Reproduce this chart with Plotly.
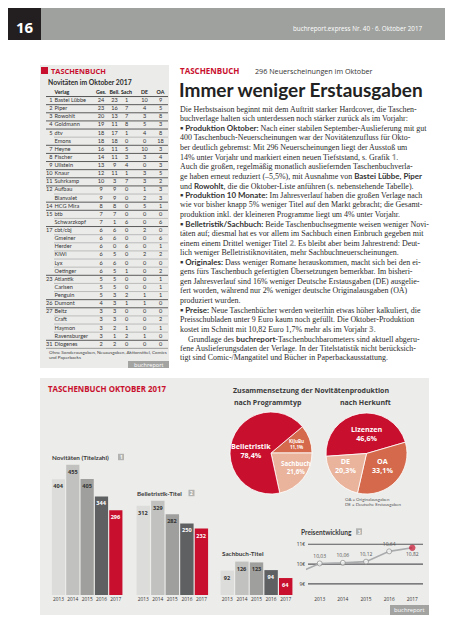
import plotly.graph_objects as go

W, H = 453, 640
RED = "#c8102e"
MID = "#d4694b"
LIGHT = "#e9b39c"
PANEL = "#ececea"
TXT = "#333333"
SANS = "Open Sans, Arial, sans-serif"
LATO = "Lato, Open Sans, sans-serif"
SERIF = "Liberation Serif, DejaVu Serif, serif"

# ---------------- data ----------------
rank = ["1", "2", "3", "4", "5", "", "7", "8", "9", "10", "11", "12", "", "14", "15", "",
        "17", "", "", "", "", "", "23", "", "", "26", "27", "", "", "", "31"]
verlag = ["Bastei Lübbe", "Piper", "Rowohlt", "Goldmann", "dtv", "Emons", "Heyne", "Fischer",
          "Ullstein", "Knaur", "Suhrkamp", "Aufbau", "Blanvalet", "HCG Mira", "btb", "Schwarzkopf",
          "cbt/cbj", "Gmeiner", "Herder", "KiWi", "Lyx", "Oetinger", "Atlantik", "Carlsen",
          "Penguin", "Dumont", "Beltz", "Craft", "Haymon", "Ravensburger", "Diogenes"]
ges = [24, 23, 20, 19, 18, 18, 16, 14, 13, 12, 10, 9, 9, 8, 7, 7, 6, 6, 6, 6, 6, 6, 5, 5, 5, 4, 3, 3, 3, 3, 2]
bell = [23, 16, 13, 11, 17, 18, 11, 11, 9, 11, 3, 9, 9, 8, 7, 1, 6, 6, 0, 5, 6, 5, 5, 5, 3, 3, 3, 3, 2, 1, 2]
sach = [1, 7, 7, 8, 1, 0, 5, 3, 4, 1, 7, 0, 0, 0, 0, 6, 0, 0, 6, 0, 0, 1, 0, 0, 2, 1, 0, 0, 1, 2, 0]
de = [10, 4, 3, 5, 4, 0, 10, 3, 0, 3, 3, 1, 2, 5, 0, 0, 2, 0, 0, 2, 0, 0, 0, 0, 1, 1, 0, 0, 0, 1, 0]
oa = [9, 5, 8, 3, 8, 18, 3, 4, 3, 5, 2, 3, 3, 1, 0, 6, 0, 6, 1, 2, 0, 2, 1, 1, 1, 0, 0, 2, 1, 0, 0]
table_header = ["Verlag", "Ges.", "Bell.", "Sach", "DE", "OA"]

years = ["2013", "2014", "2015", "2016", "2017"]
novitaeten = [404, 455, 405, 344, 296]
belletristik_titel = [312, 329, 282, 250, 232]
sachbuch_titel = [92, 126, 123, 94, 64]

price_years = [2012, 2013, 2014, 2015, 2016, 2017]
prices = [9.52, 10.03, 10.06, 10.12, 10.64, 10.82]
price_ticks = [9, 10, 11]

prog_labels = ["KiJuBu", "Sachbuch", "Belletristik"]
belletristik_share = 78.4
kiju_share = 11.1
sachbuch_share = 21.6
herkunft_labels = ["Lizenzen", "OA", "DE"]
herkunft_shares = [46.6, 33.1, 20.3]

# ---------------- helpers ----------------
def X(px):
    return px / W

def Y(py):
    return 1 - py / H

shapes = []
annotations = []

def rect(x0, y0, x1, y1, color):
    shapes.append(dict(type="rect", xref="paper", yref="paper", x0=X(x0), x1=X(x1),
                       y0=Y(y1), y1=Y(y0), fillcolor=color, line=dict(width=0), layer="below"))

def text(t, x, y, size, color=TXT, family=SANS, xanchor="left", yanchor="middle"):
    annotations.append(dict(text=t, x=X(x), y=Y(y), xref="paper", yref="paper", showarrow=False,
                            xanchor=xanchor, yanchor=yanchor, borderpad=0,
                            font=dict(size=size, color=color, family=family)))

def de_num(v, d=1):
    return f"{v:.{d}f}".replace(".", ",")

fig = go.Figure()

# ---------------- page header ----------------
rect(0, 0, 453, 32, "#9ea19d")
rect(0, 0, 33, 32, "#231f20")
text("<b>16</b>", 17, 19, 15, "white", xanchor="center")
text("buchreport.express Nr. 40 · 6. Oktober 2017", 416, 20, 6.3, "white", xanchor="right")

# ---------------- table panel ----------------
rect(32, 57, 161, 360, "#ebebea")
rect(33, 59, 40, 66, RED)
text("<b>TASCHENBUCH</b>", 41.5, 63, 7.4, RED)
text("<b>Novitäten im Oktober 2017</b>", 38.5, 73.5, 6.8, "#2b2b2b", family=LATO)

n = len(verlag)
ROW0, STEP = 92.6, 8.125
tfont = dict(size=5.6, color=TXT, family=LATO)
fig.add_trace(go.Scatter(x=[44.5] * n, y=list(range(n)), text=rank, mode="text",
                         textposition="middle left", textfont=tfont,
                         xaxis="x", yaxis="y", hoverinfo="skip"))
fig.add_trace(go.Scatter(x=[46.5] * n, y=list(range(n)), text=verlag, mode="text",
                         textposition="middle right", textfont=tfont,
                         xaxis="x", yaxis="y", hoverinfo="skip"))
col_x = [93, 106.5, 118.5, 136.5, 152.5]
for cx, vals in zip(col_x, [ges, bell, sach, de, oa]):
    fig.add_trace(go.Scatter(x=[cx] * n, y=list(range(n)), text=[str(v) for v in vals], mode="text",
                             textposition="middle center", textfont=tfont,
                             xaxis="x", yaxis="y", hoverinfo="skip"))
fig.add_trace(go.Scatter(x=[46.5] + col_x, y=[-1] * 6, text=table_header, mode="text",
                         textposition=["middle right"] + ["middle center"] * 5,
                         textfont=dict(size=5.3, color="#222", family=LATO, weight="bold"),
                         xaxis="x", yaxis="y", hoverinfo="skip"))
shapes.append(dict(type="line", xref="x", yref="y", x0=38, x1=160, y0=-0.5, y1=-0.5,
                   line=dict(color="#555", width=1)))
for i in range(n):
    major = (i == n - 1) or rank[i + 1] != ""
    shapes.append(dict(type="line", xref="x", yref="y", x0=38 if major else 46, x1=160,
                       y0=i + 0.5, y1=i + 0.5,
                       line=dict(color="#5a5a5a" if major else "#9c9c9c", width=1 if major else 0.6)))
text("Ohne Sonderausgaben, Neuausgaben, Aktionstitel, Comics", 39.5, 343.5, 4.6, "#444", LATO)
text("und Paperbacks", 39.5, 349, 4.6, "#444", LATO)
rect(120, 353, 161, 360, "#a3a4a2")
text("buchreport", 140.5, 356.5, 5.6, "white", xanchor="center")

# ---------------- article ----------------
text("<b>TASCHENBUCH</b>", 171, 62, 8, RED)
text("296 Neuerscheinungen im Oktober", 246, 62.5, 7.2, "#333")
text("<b>Immer weniger Erstausgaben</b>", 170, 81, 19, "#222", family=LATO)

def B(s):
    return ('<span style="font-family:Lato;font-weight:bold;color:#333">▪ ' + s + '</span>')

def S(s):
    return '<span style="font-family:Lato;font-weight:bold;color:#333">' + s + '</span>'

def BOX(s):
    return '<span style="font-family:Open Sans;font-weight:bold;color:#9a9a9a">' + s + '</span>'

body = [
    "Die Herbstsaison beginnt mit dem Auftritt starker Hardcover, die Taschen-",
    "buchverlage halten sich unterdessen noch stärker zurück als im Vorjahr:",
    B("Produktion Oktober:") + " Nach einer stabilen September-Auslieferung mit gut",
    "400 Taschenbuch-Neuerscheinungen war der Novitätenzufluss für Okto-",
    "ber deutlich gebremst: Mit 296 Neuerscheinungen liegt der Ausstoß um",
    "14% unter Vorjahr und markiert einen neuen Tiefststand, s. Grafik " + BOX("1") + ".",
    "Auch die großen, regelmäßig monatlich ausliefernden Taschenbuchverla-",
    "ge haben erneut reduziert (–5,5%), mit Ausnahme von " + S("Bastei Lübbe, Piper"),
    "und " + S("Rowohlt") + ", die die Oktober-Liste anführen (s. nebenstehende Tabelle).",
    B("Produktion 10 Monate:") + " Im Jahresverlauf haben die großen Verlage nach",
    "wie vor bisher knapp 5% weniger Titel auf den Markt gebracht; die Gesamt-",
    "produktion inkl. der kleineren Programme liegt um 4% unter Vorjahr.",
    B("Belletristik/Sachbuch:") + " Beide Taschenbuchsegmente weisen weniger Novi-",
    "täten auf; diesmal hat es vor allem im Sachbuch einen Einbruch gegeben mit",
    "einem einem Drittel weniger Titel " + BOX("2") + ". Es bleibt aber beim Jahrestrend: Deut-",
    "lich weniger Belletristiknovitäten, mehr Sachbuchneuerscheinungen.",
    B("Originales:") + " Dass weniger Romane herauskommen, macht sich bei den ei-",
    "gens fürs Taschenbuch gefertigten Übersetzungen bemerkbar. Im bisheri-",
    "gen Jahresverlauf sind 16% weniger Deutsche Erstausgaben (DE) ausgelie-",
    "fert worden, während nur 2% weniger deutsche Originalausgaben (OA)",
    "produziert wurden.",
    B("Preise:") + " Neue Taschenbücher werden weiterhin etwas höher kalkuliert, die",
    "Preisschubladen unter 9 Euro kaum noch gefüllt. Die Oktober-Produktion",
    "kostet im Schnitt mit 10,82 Euro 1,7% mehr als im Vorjahr " + BOX("3") + ".",
    "\u00a0\u00a0\u00a0\u00a0Grundlage des " + S("buchreport") + "-Taschenbuchbarometers sind aktuell abgeru-",
    "fene Auslieferungsdaten der Verlage. In der Titelstatistik nicht berücksich-",
    "tigt sind Comic-/Mangatitel und Bücher in Paperbackausstattung.",
]
for k, line in enumerate(body):
    text(line, 171, 101 + k * 9.57, 7.95, "#2a2a2a", SERIF)

# ---------------- bottom panel ----------------
rect(32, 370, 421, 607, PANEL)
text("<b>TASCHENBUCH OKTOBER 2017</b>", 38.5, 381, 7.9, RED)
text("<b>Zusammensetzung der Novitätenproduktion</b>", 303, 382, 7, "#3a3a3a", xanchor="center")
text("<b>nach Programmtyp</b>", 260, 394.5, 7, "#3a3a3a", xanchor="center")
text("<b>nach Herkunft</b>", 357, 394.5, 7, "#3a3a3a", xanchor="center")

# pies
fig.add_trace(go.Pie(values=[kiju_share, sachbuch_share, belletristik_share - kiju_share],
                     labels=prog_labels, sort=False, direction="clockwise", rotation=50,
                     marker=dict(colors=[MID, LIGHT, RED], line=dict(color="white", width=0.8)),
                     domain=dict(x=[X(222), X(304)], y=[Y(486), Y(404)]),
                     textinfo="none", hoverinfo="skip", showlegend=False))
fig.add_trace(go.Pie(values=herkunft_shares, labels=herkunft_labels, sort=False,
                     direction="clockwise", rotation=266,
                     marker=dict(colors=[RED, MID, LIGHT], line=dict(color="white", width=0.8)),
                     domain=dict(x=[X(318), X(399)], y=[Y(486), Y(405)]),
                     textinfo="none", hoverinfo="skip", showlegend=False))
text(f"<b>{prog_labels[2]}<br>{de_num(belletristik_share)}%</b>", 243, 442, 7.2, "white", xanchor="center")
text(f"<b>{prog_labels[0]}<br>{de_num(kiju_share)}%</b>", 288.5, 436, 4.6, "white", xanchor="center")
text(f"<b>{prog_labels[1]}<br>{de_num(sachbuch_share)}%</b>", 288, 459, 6.2, "white", xanchor="center")
text(f"<b>{herkunft_labels[0]}<br>{de_num(herkunft_shares[0])}%</b>", 358, 425.5, 7.2, "white", xanchor="center")
text(f"<b>{herkunft_labels[2]}<br>{de_num(herkunft_shares[2])}%</b>", 337, 457.5, 7.2, "white", xanchor="center")
text(f"<b>{herkunft_labels[1]}<br>{de_num(herkunft_shares[1])}%</b>", 374.5, 457.5, 7.2, "white", xanchor="center")
text("OA = Originalausgaben", 336, 491, 4.4, "#555", LATO)
text("DE = Deutsche Erstausgaben", 336, 496.5, 4.4, "#555", LATO)

# bar charts
bar_colors = ["#dcdcda", "#c1c2bf", "#9fa09e", "#5f6062", RED]
label_colors = [TXT, TXT, TXT, "white", "white"]
for vals, xa, ya in [(novitaeten, "x2", "y2"), (belletristik_titel, "x3", "y3"), (sachbuch_titel, "x4", "y4")]:
    fig.add_trace(go.Bar(x=years, y=vals, xaxis=xa, yaxis=ya, marker=dict(color=bar_colors, line=dict(width=0)),
                         text=[str(v) for v in vals], textposition="inside", insidetextanchor="end",
                         textangle=0, constraintext="none",
                         textfont=dict(size=5.6, color=label_colors, family=SANS, weight="bold"),
                         hoverinfo="skip", showlegend=False))

def box_num(x0, yc, s):
    rect(x0, yc - 3.2, x0 + 6, yc + 3.2, "#b3b4b2")
    text(f"<b>{s}</b>", x0 + 3, yc, 4.6, "white", xanchor="center")

text("<b>Novitäten (Titelzahl)</b>", 42.5, 449, 6.3, "#3a3a3a", LATO)
box_num(110, 449, "1")
text("<b>Belletristik-Titel</b>", 127.5, 485, 6.3, "#3a3a3a", LATO)
box_num(180.5, 485, "2")
text("<b>Sachbuch-Titel</b>", 212.5, 545, 6.3, "#3a3a3a", LATO)
text("<b>Preisentwicklung</b>", 291.5, 524, 6.6, "#3a3a3a", LATO)
box_num(348, 523.5, "3")

# price chart
price_text = [""] + [de_num(p, 2) for p in prices[1:]]
fig.add_trace(go.Scatter(x=price_years, y=prices, xaxis="x5", yaxis="y5", mode="lines+markers+text",
                         line=dict(color="#a9abad", width=1.6),
                         marker=dict(size=[0, 5, 5, 5, 5, 5.5], color=["white"] * 5 + [RED],
                                     line=dict(color=["#8c8c8c"] * 5 + [RED], width=1)),
                         text=price_text, textposition=["top center"] * 5 + ["bottom center"],
                         textfont=dict(size=5, color="#555", family=SANS),
                         cliponaxis=True, hoverinfo="skip", showlegend=False))
for t in price_ticks:
    shapes.append(dict(type="line", xref="paper", yref="y5", x0=X(300), x1=X(415), y0=t, y1=t,
                       line=dict(color="#58595b", width=1.2), layer="below"))

rect(382, 597, 421, 607, "#a3a4a2")
text("buchreport", 401.5, 602, 5.8, "white", xanchor="center")

# ---------------- axes ----------------
tickf = dict(size=4.8, color=TXT, family=SANS)
hidden = dict(visible=False, fixedrange=True)
cat_ax = dict(type="category", showgrid=False, zeroline=False, showline=False, ticks="",
              tickfont=tickf, fixedrange=True)
x5_left = 2013 - (311.7 - 298) / 23.15
fig.update_layout(
    width=W, height=H, margin=dict(l=0, r=0, t=0, b=0),
    paper_bgcolor="white", plot_bgcolor="rgba(0,0,0,0)", showlegend=False,
    bargap=0.08,
    xaxis=dict(domain=[0, 1], range=[0, W], **hidden),
    yaxis=dict(domain=[Y(ROW0 + 30.5 * STEP), Y(ROW0 - 1.5 * STEP)], range=[30.5, -1.5], **hidden),
    xaxis2=dict(domain=[X(43.3), X(115)], anchor="y2", **cat_ax),
    yaxis2=dict(domain=[Y(587), Y(443.8)], range=[0, 500], anchor="x2", **hidden),
    xaxis3=dict(domain=[X(128), X(200.7)], anchor="y3", **cat_ax),
    yaxis3=dict(domain=[Y(587), Y(443.8)], range=[0, 500], anchor="x3", **hidden),
    xaxis4=dict(domain=[X(212), X(285)], anchor="y4", **cat_ax),
    yaxis4=dict(domain=[Y(587), Y(534)], range=[0, 200], anchor="x4", **hidden),
    xaxis5=dict(domain=[X(298), X(415)], range=[x5_left, x5_left + (415 - 298) / 23.15], anchor="y5",
                tickvals=price_years[1:], ticktext=[str(y) for y in price_years[1:]],
                showgrid=False, zeroline=False, showline=False, ticks="", tickfont=tickf, fixedrange=True),
    yaxis5=dict(domain=[Y(586.7), Y(530.3)], range=[8.45, 11.3], anchor="x5",
                tickvals=price_ticks, ticktext=[f"{t}€" for t in price_ticks],
                showgrid=False, zeroline=False, showline=False, ticks="", tickfont=tickf, fixedrange=True),
    shapes=shapes, annotations=annotations,
)

fig.write_html("out.html", config={"displayModeBar": False})
